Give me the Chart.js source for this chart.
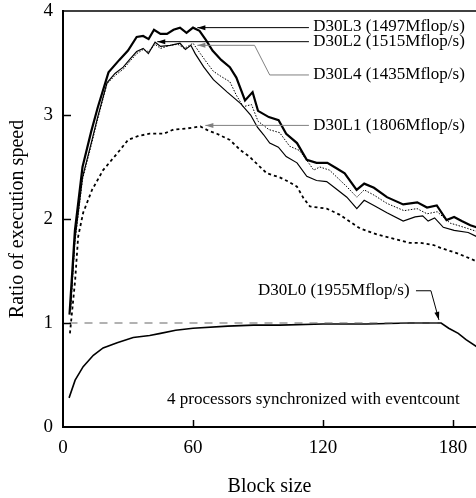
<!DOCTYPE html>
<html>
<head>
<meta charset="utf-8">
<script src="https://cdn.jsdelivr.net/npm/chart.js@4"></script>
<style>
  html, body { margin: 0; padding: 0; background: #fff; }
  #speed { display: block; }
</style>
</head>
<body>
<canvas id="speed" width="476" height="498"></canvas>
<script>
// tick values
const xTicks = [0, 60, 120, 180];
const yTicks = [0, 1, 2, 3, 4];

// D30L3 (thick solid)
const l3X = [3, 5.5, 9, 13, 16, 21, 26, 30, 34, 37, 39.5, 42, 45, 48, 51, 54, 57, 60, 63, 66, 69, 73, 77, 80, 84, 87.5, 90, 95, 99.5, 103, 108, 112.5, 117, 122, 126, 130, 135.5, 139, 143.5, 149.5, 157, 163.5, 168, 172.5, 177, 180.5, 184, 188, 191];
const l3Y = [1.08, 1.89, 2.50, 2.84, 3.07, 3.41, 3.53, 3.62, 3.75, 3.76, 3.73, 3.82, 3.78, 3.78, 3.82, 3.84, 3.79, 3.84, 3.81, 3.72, 3.62, 3.53, 3.46, 3.36, 3.14, 3.22, 3.04, 2.98, 2.95, 2.82, 2.73, 2.57, 2.54, 2.54, 2.49, 2.44, 2.28, 2.34, 2.30, 2.21, 2.14, 2.16, 2.11, 2.13, 1.99, 2.02, 1.98, 1.94, 1.92];

// D30L2 (thin solid)
const l2X = [3.5, 5.5, 9, 13.4, 16, 20.3, 24, 27.8, 31, 34, 37, 39.4, 42.5, 45, 49.5, 54, 56.5, 59, 61, 65, 69.4, 75.8, 82, 86.6, 89.8, 92.6, 95.4, 99.4, 103, 108, 112.5, 117, 121.7, 126, 131, 135.6, 139, 143.5, 149.5, 157, 162.5, 166, 168.5, 171.5, 175.5, 180.5, 187, 191];
const l2Y = [1.15, 1.80, 2.40, 2.76, 2.98, 3.31, 3.40, 3.46, 3.54, 3.61, 3.64, 3.59, 3.70, 3.66, 3.67, 3.69, 3.63, 3.67, 3.59, 3.46, 3.34, 3.22, 3.11, 3.00, 2.88, 2.81, 2.73, 2.69, 2.60, 2.54, 2.41, 2.37, 2.36, 2.29, 2.21, 2.10, 2.18, 2.13, 2.06, 1.98, 2.02, 2.03, 1.98, 2.01, 1.92, 1.89, 1.87, 1.83];

// D30L4 (dotted)
const l4X = [3.5, 5.5, 9, 13.4, 16, 20.3, 24, 27.8, 31, 34, 37, 39.4, 42.5, 45, 49.5, 53, 56, 60, 63.4, 66.5, 69.4, 73, 77, 80, 83.2, 87, 90, 95, 100, 104.6, 109, 112, 115.7, 118.5, 123, 127, 131, 135.6, 139, 143.5, 149.5, 157.4, 163.4, 168, 172.7, 178.7, 182, 186.6, 191];
const l4Y = [1.12, 1.78, 2.38, 2.74, 2.96, 3.30, 3.38, 3.44, 3.52, 3.59, 3.63, 3.61, 3.68, 3.64, 3.67, 3.68, 3.64, 3.69, 3.59, 3.50, 3.42, 3.37, 3.32, 3.19, 3.08, 3.10, 2.94, 2.86, 2.83, 2.70, 2.66, 2.58, 2.47, 2.50, 2.47, 2.39, 2.31, 2.21, 2.28, 2.23, 2.15, 2.08, 2.10, 2.05, 2.07, 1.96, 1.94, 1.91, 1.88];

// D30L1 (dashed)
const l1X = [3.2, 5.6, 7, 9.3, 13.4, 18.5, 25, 30, 35, 40, 46.5, 51, 57, 63.4, 67, 71, 77, 82, 86, 90, 94, 100, 104, 108, 111, 114, 121.7, 127.8, 132, 137, 145, 152.8, 160, 165, 171, 174.5, 182, 189, 191];
const l1Y = [0.90, 1.41, 1.83, 2.06, 2.28, 2.47, 2.63, 2.76, 2.80, 2.82, 2.82, 2.86, 2.87, 2.89, 2.85, 2.82, 2.76, 2.66, 2.60, 2.52, 2.44, 2.40, 2.36, 2.31, 2.20, 2.12, 2.10, 2.04, 1.98, 1.91, 1.85, 1.81, 1.77, 1.77, 1.75, 1.72, 1.67, 1.61, 1.59];

// D30L0 (solid, bottom)
const l0X = [2.8, 5.6, 9.3, 14, 18.5, 25, 32.4, 40, 45, 52, 60, 76, 88, 100, 120, 140, 160, 174.5, 178, 182.4, 186, 191];
const l0Y = [0.28, 0.45, 0.58, 0.69, 0.76, 0.81, 0.86, 0.88, 0.90, 0.93, 0.95, 0.97, 0.98, 0.98, 0.99, 0.99, 1.0, 1.0, 0.95, 0.90, 0.84, 0.77];

// ratio = 1 reference
const refX = [3, 175];
const refY = [1, 1];

const serif = 'Liberation Serif';

function pts(xs, ys) {
  return xs.map((x, i) => ({ x: x, y: ys[i] }));
}

// labels and arrows, in data units
const notes = [
  { text: 'D30L3 (1497Mflop/s)', at: [115.5, 3.85], path: [[113.5, 3.84], [62, 3.84]], color: '#000' },
  { text: 'D30L2 (1515Mflop/s)', at: [115.5, 3.71], path: [[113.5, 3.705], [43.5, 3.705]], color: '#000' },
  { text: 'D30L4 (1435Mflop/s)', at: [115.5, 3.385], path: [[113.5, 3.385], [95.4, 3.385], [88.4, 3.67], [62, 3.67]], color: '#808080' },
  { text: 'D30L1 (1806Mflop/s)', at: [115.5, 2.90], path: [[113.5, 2.90], [65.7, 2.90]], color: '#808080' },
  { text: 'D30L0 (1955Mflop/s)', at: [90, 1.3125], path: [[162.9, 1.31], [169.8, 1.31], [173.5, 1.03]], color: '#000' },
  { text: '4 processors synchronized with eventcount', at: [48, 0.26], path: null }
];

const decor = {
  id: 'decor',
  afterDatasetsDraw(chart) {
    const ctx = chart.ctx;
    const area = chart.chartArea;
    const xs = chart.scales.x;
    const ys = chart.scales.y;
    ctx.save();
    ctx.strokeStyle = '#000';
    // top frame
    ctx.lineWidth = 1.5;
    ctx.beginPath();
    ctx.moveTo(area.left, area.top);
    ctx.lineTo(area.right, area.top);
    ctx.stroke();
    // inward ticks
    ctx.lineWidth = 1.5;
    xTicks.slice(1).forEach(v => {
      const px = Math.round(xs.getPixelForValue(v)) + 0.5;
      ctx.beginPath();
      ctx.moveTo(px, area.bottom);
      ctx.lineTo(px, area.bottom - 7);
      ctx.stroke();
    });
    yTicks.slice(1, -1).forEach(v => {
      const py = Math.round(ys.getPixelForValue(v)) + 0.5;
      ctx.beginPath();
      ctx.moveTo(area.left, py);
      ctx.lineTo(area.left + 8, py);
      ctx.stroke();
    });

    // annotations
    ctx.font = '17px "' + serif + '"';
    ctx.textBaseline = 'middle';
    ctx.textAlign = 'left';
    notes.forEach(n => {
      ctx.fillStyle = '#000';
      ctx.fillText(n.text, xs.getPixelForValue(n.at[0]), ys.getPixelForValue(n.at[1]));
      if (!n.path) return;
      const p = n.path.map(q => [xs.getPixelForValue(q[0]), ys.getPixelForValue(q[1])]);
      ctx.strokeStyle = n.color;
      ctx.fillStyle = n.color;
      ctx.lineWidth = 1;
      ctx.beginPath();
      ctx.moveTo(p[0][0], p[0][1]);
      for (let i = 1; i < p.length; i++) ctx.lineTo(p[i][0], p[i][1]);
      ctx.stroke();
      // arrow head at the last point
      const a = p[p.length - 2], b = p[p.length - 1];
      const ang = Math.atan2(b[1] - a[1], b[0] - a[0]);
      const len = 8, half = 2.5;
      ctx.beginPath();
      ctx.moveTo(b[0], b[1]);
      ctx.lineTo(b[0] - len * Math.cos(ang) + half * Math.sin(ang), b[1] - len * Math.sin(ang) - half * Math.cos(ang));
      ctx.lineTo(b[0] - len * Math.cos(ang) - half * Math.sin(ang), b[1] - len * Math.sin(ang) + half * Math.cos(ang));
      ctx.closePath();
      ctx.fill();
    });
    ctx.restore();
  }
};

new Chart(document.getElementById('speed'), {
  type: 'scatter',
  data: {
    datasets: [
      { label: 'ref', data: pts(refX, refY), borderColor: '#666', borderWidth: 1.2, borderDash: [8, 7] },
      { label: 'D30L0', data: pts(l0X, l0Y), borderColor: '#000', borderWidth: 1.6 },
      { label: 'D30L1', data: pts(l1X, l1Y), borderColor: '#000', borderWidth: 1.8, borderDash: [3, 3] },
      { label: 'D30L2', data: pts(l2X, l2Y), borderColor: '#000', borderWidth: 1.2 },
      { label: 'D30L4', data: pts(l4X, l4Y), borderColor: '#000', borderWidth: 1, borderDash: [1.5, 1.5] },
      { label: 'D30L3', data: pts(l3X, l3Y), borderColor: '#000', borderWidth: 2.2 }
    ].map(d => Object.assign(d, { showLine: true, pointRadius: 0, tension: 0, fill: false }))
  },
  options: {
    responsive: false,
    animation: false,
    events: [],
    layout: { padding: { top: 11, right: 0, left: 0, bottom: 0 } },
    plugins: {
      legend: { display: false },
      tooltip: { enabled: false }
    },
    scales: {
      x: {
        type: 'linear',
        min: 0,
        max: 190.6,
        afterBuildTicks: s => { s.ticks = xTicks.map(v => ({ value: v })); },
        afterFit: s => { s.height = 71; s.paddingLeft = 0; s.paddingRight = 0; },
        grid: { drawOnChartArea: false, drawTicks: false },
        border: { color: '#000', width: 2 },
        ticks: { color: '#000', padding: 10, font: { family: serif, size: 19 } },
        title: {
          display: true, text: 'Block size', color: '#000',
          font: { family: serif, size: 20, lineHeight: 1 },
          padding: { top: 0, bottom: 1 }
        }
      },
      y: {
        type: 'linear',
        min: 0,
        max: 4,
        afterBuildTicks: s => { s.ticks = yTicks.map(v => ({ value: v })); },
        afterFit: s => { s.width = 63; s.paddingTop = 0; s.paddingBottom = 0; },
        grid: { drawOnChartArea: false, drawTicks: false },
        border: { color: '#000', width: 2 },
        ticks: { color: '#000', padding: 10, font: { family: serif, size: 19 } },
        title: {
          display: true, text: 'Ratio of execution speed', color: '#000',
          font: { family: serif, size: 20, lineHeight: 1 },
          padding: { top: 8, bottom: 0 }
        }
      }
    }
  },
  plugins: [decor]
});
</script>
</body>
</html>
